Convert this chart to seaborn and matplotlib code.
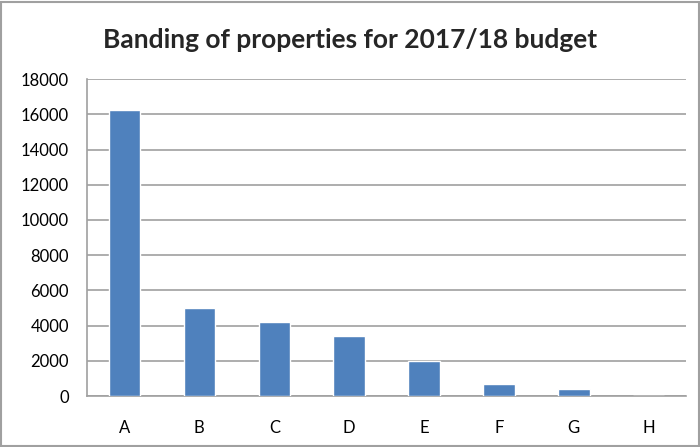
import matplotlib
matplotlib.use("Agg")
import matplotlib.pyplot as plt
import seaborn as sns
import pandas as pd
from matplotlib.patches import Rectangle

bands = ["A", "B", "C", "D", "E", "F", "G", "H"]
counts = [16240, 5000, 4200, 3390, 1970, 665, 390, 30]
y_ticks = list(range(0, 18001, 2000))

df = pd.DataFrame({"Band": bands, "Properties": counts})

sns.set_style("white")
plt.rcParams["font.family"] = ["Lato", "DejaVu Sans"]

fig = plt.figure(figsize=(7, 4.47), dpi=100)
ax = fig.add_axes([0.1243, 0.114, 0.856, 0.709])

sns.barplot(data=df, x="Band", y="Properties", color="#4F81BD",
            width=0.42, saturation=1, ax=ax, zorder=3)

ax.set_ylim(0, 18000)
ax.set_yticks(y_ticks)
ax.set_xlim(-0.5, len(bands) - 0.5)
ax.yaxis.grid(True, color="#A0A0A0", linewidth=1.2, zorder=0)
ax.set_axisbelow(True)
ax.set_xlabel("")
ax.set_ylabel("")
ax.tick_params(axis="both", length=0, labelsize=12, colors="black")
ax.tick_params(axis="x", pad=17)
ax.tick_params(axis="y", pad=13)

for side in ["top", "right"]:
    ax.spines[side].set_visible(False)
for side in ["left", "bottom"]:
    ax.spines[side].set_color("#A0A0A0")
    ax.spines[side].set_linewidth(1.2)

fig.text(0.5, 0.91, "Banding of properties for 2017/18 budget",
         ha="center", va="center", fontsize=19, fontweight="bold")

# outer chart border
fig.patches.append(Rectangle((0.002, 0.002), 0.996, 0.994, transform=fig.transFigure,
                             fill=False, edgecolor="#A0A0A0", linewidth=1.5))

fig.savefig("out.png", dpi=100)
